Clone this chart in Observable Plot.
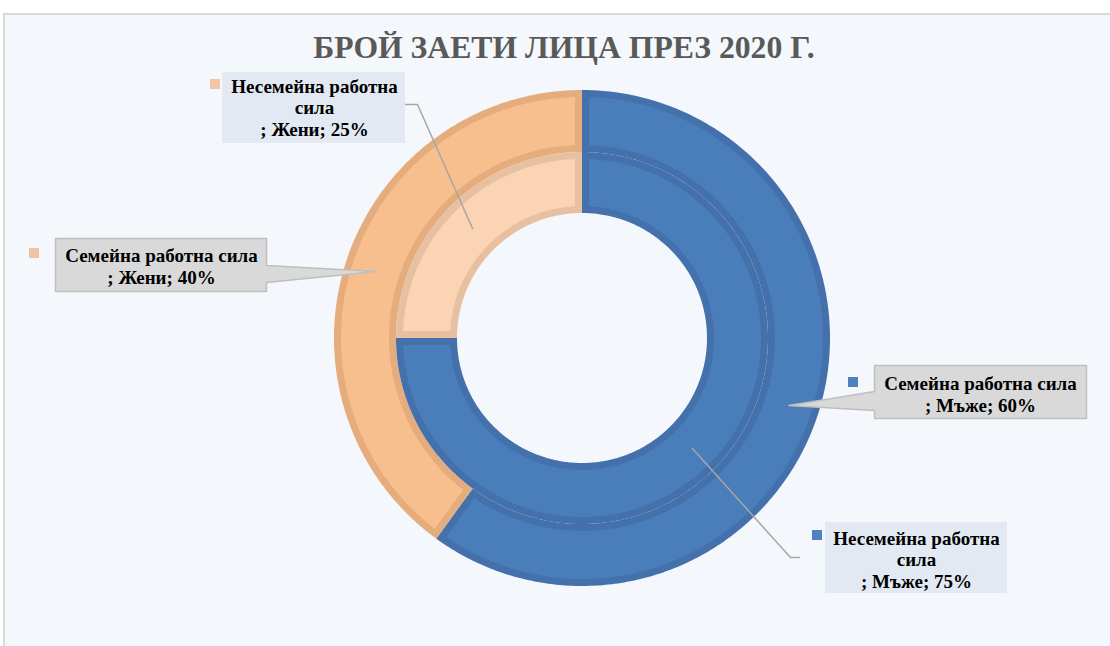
<!DOCTYPE html>
<html><head><meta charset="utf-8">
<script src="https://cdn.jsdelivr.net/npm/d3@7"></script>
<script src="https://cdn.jsdelivr.net/npm/@observablehq/plot@0.6"></script>
<style>
body{margin:0;background:#fff;}
#wrap{position:relative;width:1110px;height:646px;overflow:hidden;font-family:"Liberation Serif","Times New Roman",serif;}
#bg{position:absolute;left:3px;top:13px;width:1107px;height:633px;background:#f4f7fb;border-left:2px solid #d9d9d9;border-top:2px solid #d9d9d9;box-sizing:border-box;}
#title{position:absolute;top:32px;left:564px;transform:translateX(-50%);white-space:nowrap;font-size:31.7px;line-height:31px;font-weight:bold;color:#595959;}
#plot{position:absolute;left:0;top:66px;}
</style></head>
<body><div id="wrap"><div id="bg"></div><div id="title"></div><div id="plot"></div></div>
<script>
// ---- data ----
const title = "БРОЙ ЗАЕТИ ЛИЦА ПРЕЗ 2020 Г.";
const rings = ["Семейна работна сила", "Несемейна работна сила"]; // outer ring, inner ring
const categories = ["Мъже", "Жени"];
const familyValues = [60, 40];      // Семейна работна сила: Мъже, Жени (%)
const nonFamilyValues = [75, 25];   // Несемейна работна сила: Мъже, Жени (%)

// ---- layout & style (page pixels) ----
const geom = {cx: 582, cy: 338, radii: [[186, 248], [125, 186]], border: 7, top: 66};
const colors = [
  [{fill: "#4a7ebb", edge: "#4471ac", key: "#4f81bd"}, {fill: "#f8bf8e", edge: "#e5ad7e", key: "#eec2a2"}],
  [{fill: "#4a7ebb", edge: "#4471ac", key: "#4f81bd"}, {fill: "#fbd4b4", edge: "#e7c0a2", key: "#f0c6a6"}]
];
const labelLayout = [
  {ring: 1, cat: 1, kind: "plain", wrap: true, box: [222, 72, 405, 143], tx: 314, baseline: 135, key: [210, 79], leader: [[405, 104], [417, 104]]},
  {ring: 0, cat: 1, kind: "callout", wrap: false, box: [55, 238, 266, 291], tx: 161, baseline: 283, key: [29, 248], side: "right", base: [265, 282]},
  {ring: 0, cat: 0, kind: "callout", wrap: false, box: [874, 365, 1086, 418], tx: 980, baseline: 411, key: [848, 377], side: "left", base: [391, 410]},
  {ring: 1, cat: 0, kind: "plain", wrap: true, box: [825, 522, 1007, 593], tx: 916, baseline: 587, key: [812, 530], leader: [[799, 557], [790, 557]]}
];

document.getElementById("title").textContent = title;

const ringValues = [familyValues, nonFamilyValues];
const pie = d3.pie().sort(null).value(d => d);
const pt = (r, a) => [geom.cx + r * Math.sin(a), geom.cy - r * Math.cos(a)];

function band(a0, a1, ri, ro, inset) {
  const oR = ro - inset, iR = ri + inset;
  const oo = inset ? Math.asin(inset / oR) : 0, io = inset ? Math.asin(inset / iR) : 0;
  const oa0 = a0 + oo, oa1 = a1 - oo, ia0 = a0 + io, ia1 = a1 - io;
  const N = Math.max(4, Math.ceil((a1 - a0) * 80));
  return d3.range(N + 1).map(k => {
    const t = k / N;
    const [x1, y1] = pt(oR, oa0 + t * (oa1 - oa0));
    const [x2, y2] = pt(iR, ia0 + t * (ia1 - ia0));
    return {x1, y1, x2, y2};
  });
}

const segments = [];
ringValues.forEach((vals, ri) => {
  pie(vals).forEach((a, ci) => {
    const [rIn, rOut] = geom.radii[ri];
    const mid = (a.startAngle + a.endAngle) / 2;
    segments.push({ri, ci, value: vals[ci], a0: a.startAngle, a1: a.endAngle, rIn, rOut,
      anchor: pt((rIn + rOut) / 2, mid)});
  });
});
const segOf = (ri, ci) => segments.find(s => s.ri === ri && s.ci === ci);

const marks = [];
for (const s of segments) {
  const c = colors[s.ri][s.ci];
  marks.push(Plot.area(band(s.a0, s.a1, s.rIn, s.rOut, 0), {x1: "x1", y1: "y1", x2: "x2", y2: "y2", fill: c.edge}));
  marks.push(Plot.area(band(s.a0, s.a1, s.rIn, s.rOut, geom.border), {x1: "x1", y1: "y1", x2: "x2", y2: "y2", fill: c.fill}));
}

const labels = labelLayout.map(L => {
  const s = segOf(L.ring, L.cat);
  const ringName = L.wrap ? rings[L.ring].replace(/ (\S+)$/, "\n$1") : rings[L.ring];
  return {...L, seg: s, text: `${ringName}\n; ${categories[L.cat]}; ${s.value}%`, keyColor: colors[L.ring][L.cat].key};
});

// leader lines
const leaderPts = labels.filter(l => l.kind === "plain").flatMap((l, i) =>
  [...l.leader.map(p => ({id: i, x: p[0], y: p[1]})), {id: i, x: l.seg.anchor[0], y: l.seg.anchor[1]}]);
marks.push(Plot.line(leaderPts, {x: "x", y: "y", z: "id", stroke: "#a6a6a6", strokeWidth: 1.5}));

// plain label boxes
const plain = labels.filter(l => l.kind === "plain");
marks.push(Plot.rect(plain, {x1: d => d.box[0], y1: d => d.box[1], x2: d => d.box[2], y2: d => d.box[3], fill: "#e3e9f3"}));

// callout boxes
const calloutPts = labels.filter(l => l.kind === "callout").flatMap((l, i) => {
  const [x0, y0, x1, y1] = l.box, [b0, b1] = l.base, tip = l.seg.anchor;
  const P = l.side === "right"
    ? [[x0, y0], [x1, y0], [x1, b0], tip, [x1, b1], [x1, y1], [x0, y1], [x0, y0]]
    : [[x0, y0], [x1, y0], [x1, y1], [x0, y1], [x0, b1], tip, [x0, b0], [x0, y0]];
  return P.map(p => ({id: i, x: p[0], y: p[1]}));
});
marks.push(Plot.line(calloutPts, {x: "x", y: "y", z: "id", fill: "#d9d9d9", stroke: "#bfbfbf", strokeWidth: 1.5}));

// legend keys
marks.push(Plot.rect(labels, {x1: d => d.key[0], y1: d => d.key[1], x2: d => d.key[0] + 10, y2: d => d.key[1] + 10, fill: d => d.keyColor}));

// label text
marks.push(Plot.text(labels, {x: "tx", y: "baseline", text: "text", lineAnchor: "bottom", textAnchor: "middle",
  fontSize: 19, fontWeight: "bold", fontFamily: "Liberation Serif", lineHeight: 21.5 / 19, fill: "#000"}));

const chart = Plot.plot({
  width: 1110, height: 646 - geom.top, margin: 0,
  x: {domain: [0, 1110], range: [0, 1110], axis: null},
  y: {domain: [geom.top, 646], range: [0, 646 - geom.top], axis: null},
  color: {type: "identity"},
  style: {background: "transparent", overflow: "visible"},
  marks
});
document.getElementById("plot").appendChild(chart);
</script>
</body></html>
